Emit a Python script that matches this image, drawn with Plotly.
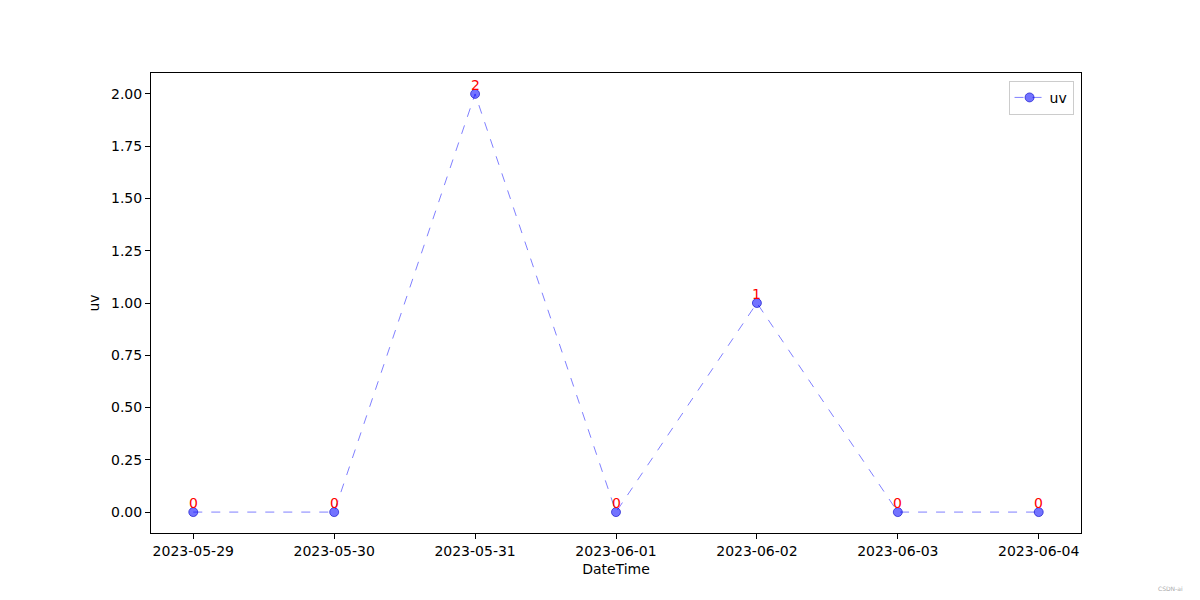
"""uv 每日折线图"""
import plotly.graph_objects as go

dates = ["2023-05-29", "2023-05-30", "2023-05-31", "2023-06-01",
         "2023-06-02", "2023-06-03", "2023-06-04"]
uv = [0, 0, 2, 0, 1, 0, 0]
y_ticks = [0.0, 0.25, 0.5, 0.75, 1.0, 1.25, 1.5, 1.75, 2.0]
y_tick_labels = ["0.00", "0.25", "0.50", "0.75", "1.00", "1.25", "1.50", "1.75", "2.00"]

fig = go.Figure()

fig.add_trace(go.Scatter(
    x=dates,
    y=uv,
    mode="lines+markers",
    name="uv",
    line=dict(color="rgba(0,0,255,0.5)", dash="dash", width=1),
    marker=dict(color="rgba(0,0,255,0.55)", size=9,
                line=dict(color="rgba(0,0,200,0.6)", width=1)),
))

# 数值标签
labels = [dict(x=d, y=v, text=str(v), showarrow=False, xanchor="center",
               yanchor="bottom", yshift=-1,
               font=dict(color="red", size=14, family="DejaVu Sans"))
          for d, v in zip(dates, uv)]

axis_style = dict(
    showline=True, linecolor="black", linewidth=1, mirror=True,
    ticks="outside", ticklen=5, tickcolor="black",
    showgrid=False, zeroline=False,
    tickfont=dict(size=14, color="black"),
)

fig.update_layout(
    width=1200, height=600,
    paper_bgcolor="white", plot_bgcolor="white",
    font=dict(family="DejaVu Sans", color="black", size=14),
    margin=dict(l=143, r=127, t=65, b=75),
    xaxis=dict(type="category", range=[-0.3, 6.3],
               title=dict(text="DateTime", standoff=6, font=dict(size=14)),
               **axis_style),
    yaxis=dict(range=[-0.1, 2.1], tickvals=y_ticks, ticktext=y_tick_labels,
               title=dict(text="uv", standoff=8, font=dict(size=14)),
               **axis_style),
    showlegend=True,
    legend=dict(x=0.992, y=0.983, xanchor="right", yanchor="top",
                bordercolor="#cccccc", borderwidth=1, bgcolor="white",
                font=dict(size=14)),
    annotations=labels + [dict(text="CSDN-ai", x=1, y=0, xref="paper", yref="paper",
                               xanchor="right", yanchor="middle", xshift=104, yshift=-55,
                               showarrow=False, font=dict(size=6, color="#aaaaaa"))],
)

fig.write_html("out.html")
